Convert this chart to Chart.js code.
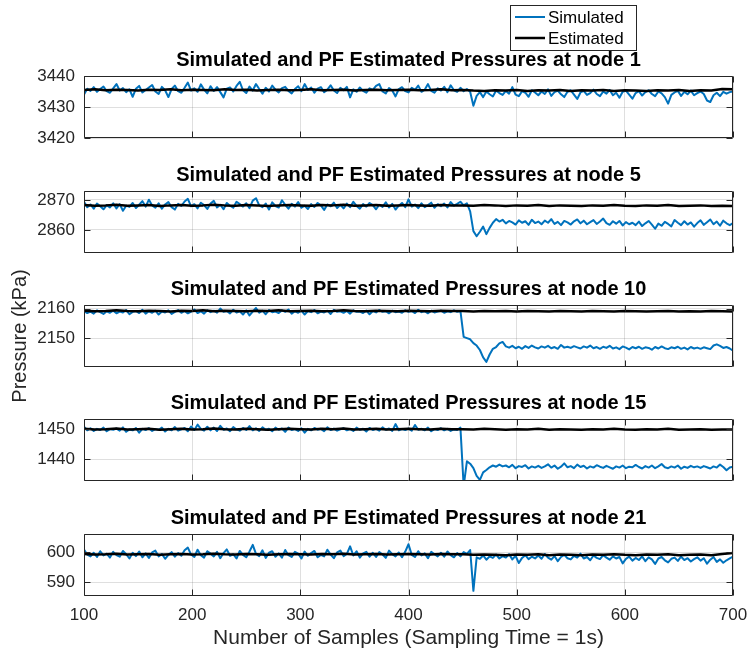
<!DOCTYPE html>
<html>
<head>
<meta charset="utf-8">
<title>Simulated and PF Estimated Pressures</title>
<script src="https://cdn.jsdelivr.net/npm/chart.js@4.4.0/dist/chart.umd.min.js"></script>
<style>
  html, body { margin: 0; padding: 0; background: #ffffff; }
  #wrap { position: relative; width: 750px; height: 657px; overflow: hidden; }
  #wrap canvas { position: absolute; left: 0; top: 0; }
</style>
</head>
<body>
<div id="wrap">
  <canvas id="p0" width="750" height="657"></canvas>
  <canvas id="p1" width="750" height="657"></canvas>
  <canvas id="p2" width="750" height="657"></canvas>
  <canvas id="p3" width="750" height="657"></canvas>
  <canvas id="p4" width="750" height="657"></canvas>
</div>
<script>
// ---- sample axis ----
const sampleStart = 100;
const simStep = 3;     // simulated pressures, every 3rd sample
const estStep = 10;    // PF estimates, every 10th sample
const xTicks = [100, 200, 300, 400, 500, 600, 700];

const nodeIds = [1, 5, 10, 15, 21];

// ---- node 1 ----
const simNode1 = [
  3434.0, 3435.9, 3435.2, 3436.4, 3434.9, 3435.8, 3436.6, 3435.1, 3434.6, 3436.0,
  3437.4, 3435.3, 3436.1, 3434.8, 3435.7, 3433.3, 3435.9, 3436.8, 3434.7, 3435.5,
  3436.3, 3437.1, 3435.0, 3434.2, 3436.5, 3435.4, 3433.2, 3435.8, 3436.9, 3435.1,
  3434.6, 3436.2, 3437.9, 3435.3, 3436.0, 3434.9, 3437.3, 3435.6, 3434.4, 3436.7,
  3435.2, 3436.4, 3434.8, 3433.1, 3435.9, 3436.3, 3435.0, 3436.8, 3438.1, 3435.4,
  3434.5, 3436.6, 3435.3, 3437.4, 3435.8, 3434.3, 3436.2, 3435.0, 3436.9, 3435.6,
  3434.7, 3436.1, 3436.5, 3435.2, 3434.4, 3435.8, 3436.7, 3435.1, 3437.4, 3435.5,
  3436.3, 3434.6, 3435.9, 3436.4, 3434.8, 3435.6, 3437.0, 3435.3, 3434.5, 3436.2,
  3435.4, 3436.5, 3433.1, 3435.7, 3434.9, 3436.3, 3435.2, 3434.6, 3436.0, 3435.5,
  3436.8, 3437.4, 3435.0, 3434.4, 3436.1, 3435.3, 3433.4, 3435.8, 3436.4, 3435.1,
  3434.7, 3436.2, 3435.5, 3436.9, 3434.9, 3435.6, 3437.4, 3435.2, 3434.6, 3436.0,
  3435.3, 3436.5, 3434.8, 3437.0, 3435.4, 3434.9, 3436.2, 3435.1, 3435.8, 3434.9,
  3430.4, 3433.6, 3434.8, 3433.2, 3435.0, 3434.1, 3433.4, 3435.3, 3434.5, 3433.9,
  3435.2, 3434.3, 3436.4, 3434.0, 3433.5, 3435.1, 3434.6, 3433.3, 3435.4, 3434.7,
  3433.8, 3435.0, 3434.2, 3435.7, 3433.6, 3434.8, 3435.3, 3434.1, 3433.2, 3434.9,
  3435.4, 3434.0, 3432.6, 3434.7, 3435.2, 3433.9, 3434.5, 3435.6, 3434.2, 3433.5,
  3435.0, 3434.3, 3435.5, 3433.8, 3434.6, 3433.0, 3434.9, 3435.3, 3434.0, 3432.7,
  3434.5, 3435.1, 3433.7, 3434.8, 3435.4, 3434.2, 3433.5, 3435.0, 3434.4, 3433.2,
  3431.1, 3433.9, 3434.7, 3435.2, 3433.6, 3434.9, 3434.1, 3435.3, 3433.8, 3434.5,
  3435.0, 3434.2, 3432.1, 3431.6, 3433.8, 3434.6, 3433.5, 3434.9, 3434.3, 3434.8,
  3435.0
];
const estNode1 = [
  3435.5, 3435.7, 3435.4, 3435.6, 3435.5, 3435.3, 3435.6, 3435.5, 3435.7, 3435.4,
  3435.6, 3435.5, 3435.4, 3435.7, 3435.5, 3435.6, 3435.3, 3435.5, 3435.6, 3435.4,
  3435.5, 3435.7, 3435.4, 3435.5, 3435.6, 3435.3, 3435.5, 3435.6, 3435.4, 3435.5,
  3435.6, 3435.4, 3435.5, 3435.7, 3435.4, 3435.5, 3435.3, 3435.2, 3435.4, 3435.3,
  3435.5, 3435.2, 3435.4, 3435.3, 3435.5, 3435.2, 3435.4, 3435.3, 3435.5, 3435.2,
  3435.4, 3435.3, 3435.2, 3435.4, 3435.3, 3435.5, 3435.2, 3435.4, 3435.3, 3435.8,
  3435.7
];

// ---- node 5 ----
const simNode5 = [
  2869.4, 2867.6, 2868.5, 2867.1, 2868.8, 2867.9, 2866.9, 2868.3, 2867.5, 2868.9,
  2867.2, 2868.6, 2866.4, 2868.1, 2867.7, 2869.0, 2867.3, 2868.4, 2869.6, 2867.8,
  2870.1, 2868.2, 2867.4, 2868.9, 2867.1, 2868.5, 2869.3, 2867.6, 2866.8, 2868.7,
  2868.0, 2869.5, 2870.4, 2867.9, 2868.6, 2867.2, 2869.1, 2868.3, 2867.0, 2868.8,
  2869.7, 2867.5, 2868.4, 2866.9, 2869.0, 2868.1, 2867.4, 2869.4, 2868.6, 2867.8,
  2868.9, 2867.3, 2869.8, 2870.6, 2868.2, 2867.6, 2868.8, 2866.8, 2869.2, 2868.0,
  2867.5, 2869.9, 2868.4, 2867.1, 2868.7, 2867.8, 2869.3, 2867.4, 2868.1, 2867.0,
  2868.6, 2867.7, 2869.0, 2868.2, 2866.7, 2868.5, 2867.9, 2869.1, 2867.3, 2868.4,
  2867.2, 2868.8, 2867.6, 2869.4, 2868.0, 2867.1, 2868.6, 2867.8, 2869.0, 2868.3,
  2866.9, 2868.4, 2867.7, 2869.2, 2867.5, 2868.7, 2866.8, 2868.1, 2869.0, 2867.6,
  2870.2, 2867.8, 2868.5, 2867.3, 2868.9, 2867.6, 2868.3, 2869.1, 2867.4, 2868.6,
  2867.9, 2868.8, 2867.5, 2869.3, 2868.1, 2868.7, 2869.4, 2868.2, 2868.9, 2866.2,
  2859.6, 2857.9, 2859.4, 2861.1, 2858.6, 2860.7, 2862.4, 2863.6, 2862.8, 2863.4,
  2862.2, 2863.0, 2862.5, 2861.8, 2863.2, 2862.4, 2862.9, 2861.7, 2863.4, 2862.3,
  2862.8, 2861.9, 2863.1, 2862.4, 2863.6, 2862.0, 2862.7, 2861.6, 2863.0, 2862.5,
  2861.8, 2862.9, 2863.5, 2862.2, 2863.1, 2861.9, 2862.6, 2863.3, 2862.0, 2862.8,
  2863.8, 2862.3, 2861.7, 2862.9, 2862.1, 2863.0, 2861.5, 2862.6, 2861.9, 2862.4,
  2861.6, 2862.8, 2861.3, 2862.2, 2863.0, 2861.8, 2860.4, 2862.1, 2861.4, 2862.7,
  2862.0, 2861.2, 2863.3, 2862.4, 2861.6, 2862.9, 2861.8, 2862.5, 2861.1, 2862.3,
  2863.2, 2861.7, 2862.6, 2863.5, 2861.9, 2862.8, 2861.4, 2863.1, 2862.2, 2861.6,
  2862.3
];
const estNode5 = [
  2868.3, 2868.1, 2868.2, 2868.4, 2868.1, 2868.2, 2868.3, 2868.0, 2868.2, 2868.3,
  2868.1, 2868.2, 2868.4, 2868.2, 2868.1, 2868.3, 2868.2, 2868.0, 2868.2, 2868.3,
  2868.2, 2868.1, 2868.3, 2868.2, 2868.4, 2868.1, 2868.2, 2868.3, 2868.1, 2868.2,
  2868.3, 2868.2, 2868.1, 2868.3, 2868.2, 2868.2, 2868.1, 2868.3, 2868.2, 2868.0,
  2868.2, 2868.1, 2868.3, 2868.0, 2868.2, 2868.1, 2868.0, 2868.2, 2868.1, 2868.3,
  2868.1, 2868.0, 2868.2, 2868.1, 2868.3, 2868.0, 2868.1, 2868.2, 2868.0, 2868.1,
  2868.0
];

// ---- node 10 ----
const simNode10 = [
  2159.2, 2158.5, 2159.0, 2158.3, 2159.4, 2158.8, 2158.2, 2159.1, 2158.6, 2159.3,
  2158.4, 2159.0, 2158.7, 2159.5, 2158.1, 2158.9, 2159.2, 2158.5, 2159.6, 2158.3,
  2159.1, 2158.6, 2159.3, 2158.0, 2159.0, 2158.7, 2159.4, 2158.2, 2158.9, 2159.5,
  2158.6, 2159.2, 2158.4, 2159.0, 2159.7, 2158.5, 2159.1, 2158.3, 2159.4, 2158.8,
  2159.3, 2158.6, 2160.0, 2158.9, 2159.2, 2158.4, 2159.6, 2158.7, 2159.1, 2158.0,
  2159.4, 2157.7, 2159.0, 2160.2, 2158.6, 2159.3, 2158.1, 2159.5, 2158.8, 2159.0,
  2158.5, 2159.4, 2158.9, 2159.7, 2158.3, 2159.1, 2158.6, 2159.3, 2158.0, 2159.2,
  2158.8, 2159.5, 2158.4, 2159.0, 2158.7, 2159.3, 2158.2, 2159.6, 2158.9, 2159.1,
  2158.6, 2159.2, 2158.3, 2159.4, 2158.9, 2159.0, 2158.5, 2159.3, 2158.1, 2159.2,
  2158.7, 2159.5, 2158.9, 2159.1, 2158.4, 2159.3, 2158.8, 2159.0, 2158.6, 2159.4,
  2158.9, 2159.2, 2158.5, 2159.6, 2158.8, 2159.1, 2158.4, 2159.3, 2158.7, 2159.0,
  2159.3, 2158.6, 2159.1, 2158.8, 2159.4, 2158.9, 2159.2, 2150.5, 2150.1, 2149.7,
  2148.4, 2147.6, 2146.1, 2143.6, 2142.1, 2144.6, 2146.5, 2147.1, 2148.3, 2148.8,
  2147.3, 2146.9, 2147.5, 2146.7, 2147.2, 2146.5, 2147.4, 2146.8, 2147.6, 2147.0,
  2146.6, 2147.3, 2146.9, 2147.5, 2146.7, 2147.1, 2146.5, 2147.8, 2146.9, 2147.2,
  2146.8, 2147.4, 2147.0, 2146.6, 2147.3, 2146.9, 2147.6, 2146.7, 2147.1, 2146.5,
  2147.2, 2146.8, 2147.5, 2146.6, 2147.0, 2146.4, 2147.3, 2146.9, 2146.3, 2147.1,
  2146.7, 2147.2, 2146.5, 2147.0, 2146.8, 2146.2, 2147.1, 2146.6, 2147.3, 2146.7,
  2146.4, 2147.0, 2146.7, 2147.2, 2146.5, 2146.9, 2146.3, 2147.1, 2146.6, 2146.9,
  2146.5, 2147.0, 2146.7, 2146.4, 2147.6, 2148.0, 2147.5, 2146.8, 2147.1, 2146.6,
  2145.9
];
const estNode10 = [
  2159.3, 2159.1, 2159.2, 2159.4, 2159.2, 2159.1, 2159.3, 2159.2, 2159.0, 2159.3,
  2159.2, 2159.4, 2159.1, 2159.3, 2159.2, 2159.1, 2159.3, 2159.2, 2159.4, 2159.1,
  2159.2, 2159.3, 2159.1, 2159.2, 2159.4, 2159.2, 2159.1, 2159.3, 2159.2, 2159.1,
  2159.3, 2159.2, 2159.1, 2159.3, 2159.2, 2159.2, 2159.0, 2159.2, 2159.1, 2159.2,
  2159.0, 2159.2, 2159.1, 2159.0, 2159.2, 2159.1, 2159.0, 2159.2, 2159.1, 2159.0,
  2159.2, 2159.1, 2159.0, 2159.1, 2159.2, 2159.0, 2159.1, 2159.0, 2159.2, 2159.1,
  2159.0
];

// ---- node 15 ----
const simNode15 = [
  1450.9, 1449.7, 1450.4, 1449.5, 1450.2, 1449.8, 1450.6, 1449.4, 1450.1, 1449.9,
  1450.3, 1449.6, 1450.7, 1449.2, 1450.0, 1449.7, 1450.5, 1448.9, 1450.2, 1449.8,
  1450.4, 1449.5, 1450.1, 1449.9, 1450.6, 1449.3, 1450.2, 1449.7, 1450.8, 1449.6,
  1450.0, 1450.5, 1449.4, 1451.0, 1449.8, 1451.6, 1450.2, 1449.6, 1450.9, 1449.7,
  1450.6, 1449.5, 1451.2, 1449.9, 1450.3, 1449.4, 1450.8, 1450.0, 1449.6, 1450.5,
  1449.8, 1451.1, 1449.7, 1450.4, 1449.5, 1450.7, 1449.9, 1450.2, 1449.4, 1450.6,
  1449.9, 1450.3, 1449.2, 1450.6, 1449.8, 1450.1, 1449.5, 1450.4, 1448.9, 1450.2,
  1449.7, 1450.5, 1449.9, 1450.2, 1449.4, 1450.7, 1449.8, 1450.3, 1449.6, 1450.0,
  1450.4, 1449.7, 1450.1, 1449.5, 1450.6, 1449.9, 1450.2, 1449.3, 1450.5, 1449.8,
  1450.2, 1449.6, 1450.7, 1449.9, 1450.3, 1449.5, 1451.8, 1449.7, 1450.1, 1449.8,
  1450.3, 1449.6, 1451.5, 1449.9, 1450.2, 1449.7, 1450.6, 1449.4, 1450.1, 1449.8,
  1450.4, 1449.7, 1450.2, 1449.5, 1450.0, 1449.8, 1450.6, 1431.0, 1439.3, 1438.5,
  1437.0, 1434.4, 1433.1, 1435.6, 1436.4, 1437.3, 1437.9, 1437.5, 1438.2, 1437.6,
  1437.9, 1437.3, 1438.1, 1437.0, 1437.7, 1437.4, 1438.0, 1436.9, 1437.6, 1437.2,
  1437.8, 1437.1, 1437.6, 1438.3, 1437.2, 1437.9, 1436.8, 1437.5, 1438.6, 1437.3,
  1437.7, 1437.0, 1438.2, 1437.4, 1437.8, 1436.9, 1437.6, 1437.2, 1438.0, 1437.5,
  1437.1, 1437.8, 1437.3, 1436.8, 1437.6, 1437.2, 1437.9, 1437.0, 1437.5, 1437.3,
  1438.1, 1437.4, 1436.9, 1437.7, 1437.2, 1437.9, 1437.0, 1437.6, 1438.4, 1437.3,
  1437.0, 1437.6, 1437.2, 1437.9, 1436.8, 1437.5, 1437.1, 1437.8, 1437.3, 1437.6,
  1437.1, 1437.7, 1437.3, 1436.9, 1437.6, 1437.2, 1438.2, 1437.4, 1436.3, 1437.2,
  1437.5
];
const estNode15 = [
  1450.2, 1450.0, 1450.1, 1450.3, 1450.0, 1450.1, 1450.2, 1449.9, 1450.1, 1450.2,
  1450.0, 1450.1, 1450.3, 1450.1, 1450.0, 1450.2, 1450.1, 1449.9, 1450.1, 1450.2,
  1450.1, 1450.0, 1450.2, 1450.1, 1450.3, 1450.0, 1450.1, 1450.2, 1450.0, 1450.1,
  1450.2, 1450.1, 1450.0, 1450.2, 1450.1, 1450.1, 1450.0, 1450.2, 1450.1, 1449.9,
  1450.1, 1450.0, 1450.2, 1449.9, 1450.1, 1450.0, 1449.9, 1450.1, 1450.0, 1450.2,
  1450.0, 1449.9, 1450.1, 1450.0, 1450.2, 1449.9, 1450.0, 1450.1, 1449.9, 1450.0,
  1450.0
];

// ---- node 21 ----
const simNode21 = [
  600.9, 599.2, 598.6, 599.8, 598.4, 600.3, 598.9, 599.5, 598.2, 600.1,
  599.0, 598.5, 600.4, 599.3, 597.9, 599.8, 598.7, 600.2, 598.3, 599.6,
  598.1, 599.9, 600.5, 598.6, 599.4, 597.8, 599.1, 600.0, 598.5, 599.7,
  598.8, 600.6, 601.5, 599.2, 598.4, 600.8, 599.0, 598.2, 600.3, 599.5,
  598.6, 600.1, 598.0, 599.7, 600.9, 598.8, 599.3, 597.9, 600.4, 599.1,
  598.3, 600.2, 602.4, 599.4, 598.7, 600.6, 598.1, 599.8, 600.3, 598.5,
  599.6, 598.2, 600.7, 599.0, 598.4, 600.1, 599.5, 597.9, 600.2, 598.8,
  599.7, 600.4, 598.3, 599.1, 598.6, 600.8, 599.2, 598.0, 599.9, 600.5,
  598.7, 599.4, 601.9, 598.9, 600.3, 598.2, 599.6, 600.1, 598.5, 599.8,
  598.4, 600.0, 599.2, 598.1, 600.5, 599.3, 598.6, 599.9, 598.3, 600.2,
  602.6, 599.1, 598.4, 600.3, 598.9, 599.6, 598.0, 600.1, 599.3, 598.6,
  599.8, 598.5, 600.2, 599.0, 598.3, 599.7, 598.6, 600.0, 599.4, 600.7,
  587.2, 598.3, 597.8, 598.9, 597.5, 598.6, 598.1, 599.2, 597.9, 598.7,
  598.2, 599.3, 597.6, 598.8, 596.4, 598.1, 599.0, 597.7, 598.5, 597.9,
  598.9, 597.8, 599.4, 598.2, 597.5, 598.7, 597.0, 598.4, 599.1, 598.0,
  597.6, 598.8, 598.2, 599.5, 597.9, 598.4, 597.3, 598.9, 598.1, 597.7,
  599.0, 598.2, 597.5, 598.6, 597.9, 598.4, 596.3, 597.8, 598.5, 597.2,
  598.1, 597.4, 598.6, 597.0, 598.3, 597.6, 596.1, 597.9, 598.4, 597.3,
  596.6, 597.8, 598.2, 597.1, 598.5, 597.4, 598.0, 596.9, 597.7, 598.3,
  597.2, 598.0, 596.2, 597.5, 598.4, 596.8, 597.6, 596.5, 597.3, 597.9,
  598.5
];
const estNode21 = [
  599.4, 599.2, 599.3, 599.5, 599.2, 599.3, 599.4, 599.1, 599.3, 599.4,
  599.2, 599.3, 599.5, 599.3, 599.2, 599.4, 599.3, 599.1, 599.3, 599.4,
  599.3, 599.2, 599.4, 599.3, 599.5, 599.2, 599.3, 599.4, 599.2, 599.3,
  599.4, 599.3, 599.2, 599.4, 599.3, 599.3, 599.1, 599.2, 599.1, 599.0,
  599.2, 599.1, 599.3, 599.0, 599.2, 599.1, 599.0, 599.2, 599.1, 599.3,
  599.1, 599.0, 599.2, 599.1, 599.3, 599.0, 599.1, 599.2, 599.0, 599.4,
  599.7
];

// ---- y axes (tick labels and limits per node) ----
const yTicksNode1 = [3420, 3430, 3440];
const yTicksNode5 = [2860, 2870];
const yTicksNode10 = [2150, 2160];
const yTicksNode15 = [1440, 1450];
const yTicksNode21 = [590, 600];
const yMin = [3420, 2852.3, 2140.4, 1432.7, 585.5];
const yMax = [3440, 2873, 2161.2, 1453.5, 606];

const simSeries = [simNode1, simNode5, simNode10, simNode15, simNode21];
const estSeries = [estNode1, estNode5, estNode10, estNode15, estNode21];
const yTickSets = [yTicksNode1, yTicksNode5, yTicksNode10, yTicksNode15, yTicksNode21];

// ---- layout of the five axes boxes (pixels) ----
const boxTops = [76, 191, 305, 419, 534];
const boxHeight = 62;
const plotLeft = 84, plotRight = 733, canvasW = 750, canvasH = 657;

const FONT = '"Liberation Sans", Arial, Helvetica, sans-serif';
const TEXT = '#262626';
const GRID = 'rgba(38,38,38,0.15)';
const BLUE = '#0072BD';

function toPoints(values, step) {
  return values.map((v, i) => ({ x: sampleStart + i * step, y: v }));
}

// axes box and inward tick marks
const framePlugin = {
  id: 'frame',
  afterDatasetsDraw(chart) {
    const { ctx, chartArea: a, scales } = chart;
    const L = Math.round(a.left) + 0.5, R = Math.round(a.right) - 0.5;
    const T = Math.round(a.top) + 0.5, B = Math.round(a.bottom) - 0.5;
    ctx.save();
    ctx.strokeStyle = TEXT;
    ctx.lineWidth = 1;
    ctx.beginPath();
    ctx.rect(L, T, R - L, B - T);
    const tl = 6;
    scales.y.ticks.forEach(t => {
      const y = Math.round(scales.y.getPixelForValue(t.value)) + 0.5;
      ctx.moveTo(L, y); ctx.lineTo(L + tl, y);
      ctx.moveTo(R, y); ctx.lineTo(R - tl, y);
    });
    scales.x.ticks.forEach(t => {
      const x = Math.round(scales.x.getPixelForValue(t.value)) + 0.5;
      ctx.moveTo(x, B); ctx.lineTo(x, B - tl);
      ctx.moveTo(x, T); ctx.lineTo(x, T + tl);
    });
    ctx.stroke();
    ctx.restore();
  }
};

// boxed legend above the first axes
const boxLegendPlugin = {
  id: 'boxLegend',
  afterDraw(chart, args, opts) {
    if (!opts.show) return;
    const { ctx } = chart;
    const x = 510.5, y = 5.5, w = 126, h = 45;
    ctx.save();
    ctx.fillStyle = '#ffffff';
    ctx.fillRect(x, y, w, h);
    ctx.strokeStyle = TEXT;
    ctx.lineWidth = 1;
    ctx.strokeRect(x, y, w, h);
    ctx.font = '17px ' + FONT;
    ctx.textBaseline = 'middle';
    ctx.textAlign = 'left';
    const rows = [17, 38];
    chart.data.datasets.forEach((ds, i) => {
      ctx.strokeStyle = ds.borderColor;
      ctx.lineWidth = ds.borderWidth;
      ctx.beginPath();
      ctx.moveTo(515, rows[i]);
      ctx.lineTo(545, rows[i]);
      ctx.stroke();
      ctx.fillStyle = '#000000';
      ctx.fillText(ds.label, 548, rows[i] + 1);
    });
    ctx.restore();
  }
};

function makePanel(k) {
  const isLast = k === nodeIds.length - 1;
  const top = boxTops[k];
  const bottom = top + boxHeight;
  return new Chart(document.getElementById('p' + k), {
    type: 'line',
    data: {
      datasets: [
        {
          label: 'Simulated',
          data: toPoints(simSeries[k], simStep),
          borderColor: BLUE,
          borderWidth: 2,
          borderJoinStyle: 'round',
          pointRadius: 0,
          tension: 0,
          order: 2
        },
        {
          label: 'Estimated',
          data: toPoints(estSeries[k], estStep),
          borderColor: '#000000',
          borderWidth: 2.5,
          borderJoinStyle: 'round',
          pointRadius: 0,
          tension: 0,
          order: 1
        }
      ]
    },
    options: {
      responsive: false,
      animation: false,
      events: [],
      layout: {
        padding: {
          left: 0,
          right: canvasW - plotRight,
          top: top - 30,
          bottom: isLast ? 0 : canvasH - bottom
        }
      },
      plugins: {
        legend: { display: false },
        tooltip: { enabled: false },
        title: {
          display: true,
          fullSize: false,
          text: 'Simulated and PF Estimated Pressures at node ' + nodeIds[k],
          color: '#000000',
          font: { family: FONT, size: 20, weight: 'bold', lineHeight: 1.2 },
          padding: { top: 2.5, bottom: 3.5 }
        },
        boxLegend: { show: k === 0 }
      },
      scales: {
        x: {
          type: 'linear',
          min: 100,
          max: 700,
          afterBuildTicks: s => { s.ticks = xTicks.map(v => ({ value: v })); },
          afterFit: s => {
            s.height = isLast ? canvasH - bottom : 0;
            s.paddingLeft = 0; s.paddingRight = 0;
          },
          grid: { color: GRID, drawTicks: false },
          border: { display: false },
          ticks: {
            display: isLast,
            color: TEXT,
            padding: 9,
            maxRotation: 0,
            font: { family: FONT, size: 17 },
            callback: v => String(v)
          },
          title: {
            display: isLast,
            text: 'Number of Samples (Sampling Time = 1s)',
            color: TEXT,
            font: { family: FONT, size: 21 },
            padding: { top: 0, bottom: 6 }
          }
        },
        y: {
          min: yMin[k],
          max: yMax[k],
          afterBuildTicks: s => { s.ticks = yTickSets[k].map(v => ({ value: v })); },
          afterFit: s => { s.width = plotLeft; s.paddingTop = 0; s.paddingBottom = 0; },
          grid: { color: GRID, drawTicks: false },
          border: { display: false },
          ticks: {
            color: TEXT,
            padding: 9,
            font: { family: FONT, size: 17 },
            callback: v => String(v)
          },
          title: {
            display: k === 2,
            text: 'Pressure (kPa)',
            color: TEXT,
            font: { family: FONT, size: 20 },
            padding: { top: 8, bottom: 0 }
          }
        }
      }
    },
    plugins: [framePlugin, boxLegendPlugin]
  });
}

nodeIds.forEach((_, k) => makePanel(k));
</script>
</body>
</html>
